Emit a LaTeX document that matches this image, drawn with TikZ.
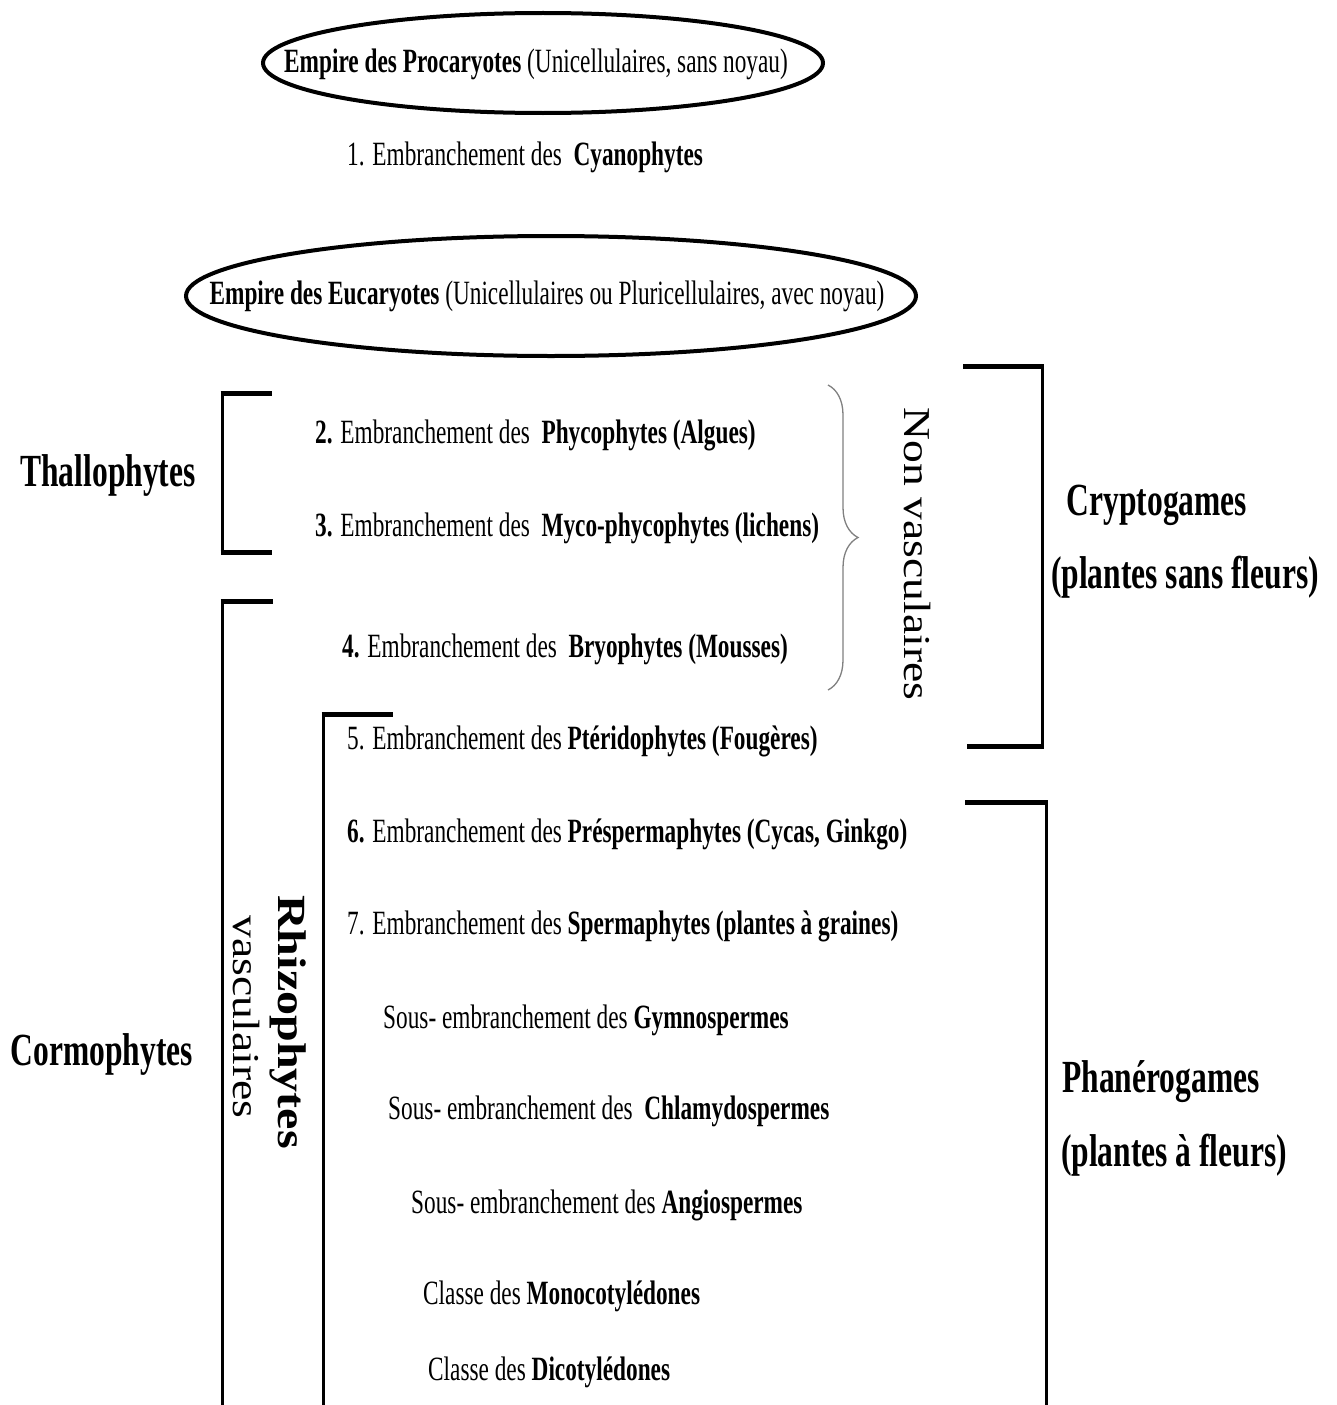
\documentclass[tikz,border=0pt]{standalone}
\usepackage{fontspec}
\setmainfont{Liberation Serif}[FakeStretch=0.685]
\newfontfamily\tallfont{Liberation Serif}[FakeStretch=1.2]
\usetikzlibrary{decorations.pathreplacing}

\begin{document}
\begin{tikzpicture}[x=1pt,y=-1pt,
    item/.style={anchor=west, inner sep=0pt, font=\fontsize{34}{40}\selectfont},
    group/.style={inner sep=0pt, font=\fontsize{46}{52}\selectfont\bfseries},
    side/.style={inner sep=0pt, rotate=-90, font=\tallfont\fontsize{38}{44}\selectfont},
    vbar/.style={line width=3pt},
    hbar/.style={line width=5pt}]
    \useasboundingbox (0,0) rectangle (1337,1405);

    % the two empires
    \draw[line width=4pt] (543,63) ellipse [x radius=280, y radius=50];
    \node[item, anchor=center] (proca) at (536,64)
        {\textbf{Empire des Procaryotes} (Unicellulaires, sans noyau)};
    \node[item] (cyano) at (347,157) {1. Embranchement des \ \textbf{Cyanophytes}};
    \draw[line width=4pt] (551,296) ellipse [x radius=365, y radius=60];
    \node[item, anchor=center] (euca) at (547,296)
        {\textbf{Empire des Eucaryotes} (Unicellulaires ou Pluricellulaires, avec noyau)};

    % embranchements
    \node[item] (phyco) at (315,435) {\textbf{2.} Embranchement des \ \textbf{Phycophytes (Algues)}};
    \node[item] (myco) at (315,528) {\textbf{3.} Embranchement des \ \textbf{Myco-phycophytes (lichens)}};
    \node[item] (bryo) at (342,649) {\textbf{4.} Embranchement des \ \textbf{Bryophytes (Mousses)}};
    \node[item] (pterido) at (347,741) {5. Embranchement des \textbf{Ptéridophytes (Fougères)}};
    \node[item] (presperma) at (347,834) {\textbf{6.} Embranchement des \textbf{Préspermaphytes (Cycas, Ginkgo)}};
    \node[item] (sperma) at (347,926) {7. Embranchement des \textbf{Spermaphytes (plantes à graines)}};
    \node[item] (gymno) at (383,1020) {Sous- embranchement des \textbf{Gymnospermes}};
    \node[item] (chlamy) at (388,1111) {Sous- embranchement des \ \textbf{Chlamydospermes}};
    \node[item] (angio) at (411,1205) {Sous- embranchement des \textbf{Angiospermes}};
    \node[item] (mono) at (423,1296) {Classe des \textbf{Monocotylédones}};
    \node[item] (dico) at (428,1372) {Classe des \textbf{Dicotylédones}};

    % groupes
    \node[group] (thallo) at (108,476) {Thallophytes};
    \node[group] (cormo) at (102,1054) {Cormophytes};
    \node[group] (crypto) at (1157,505) {Cryptogames};
    \node[group] (cryptosub) at (1185,577) {(plantes sans fleurs)};
    \node[group] (phanero) at (1161,1082) {Phanérogames};
    \node[group] (phanerosub) at (1174,1155) {(plantes à fleurs)};
    \node[side] (nonvasc) at (917,554) {Non vasculaires};
    \node[side, font=\tallfont\fontsize{40}{44}\selectfont\bfseries] (rhizo) at (288,1022) {Rhizophytes};
    \node[side] (vasc) at (246,1017) {vasculaires};

    % crochets
    \draw[vbar] (272,393) -| (222,552) -- (272,552);
    \draw[hbar] (220.5,393) -- (272,393) (220.5,552) -- (272,552);
    \draw[vbar] (273,601) -| (222,1410);
    \draw[hbar] (220.5,601) -- (273,601);
    \draw[vbar] (393,714) -| (323,1410);
    \draw[hbar] (321.5,714) -- (393,714);
    \draw[vbar] (963,366) -| (1042,746) -- (967,746);
    \draw[hbar] (963,366) -- (1043.5,366) (967,746) -- (1043.5,746);
    \draw[vbar] (965,802) -| (1046,1410);
    \draw[hbar] (965,802) -- (1047.5,802);
    \draw[gray, line width=1.3pt, decorate, decoration={brace, amplitude=30pt}]
        (828,385) -- (828,690);
\end{tikzpicture}
\end{document}
